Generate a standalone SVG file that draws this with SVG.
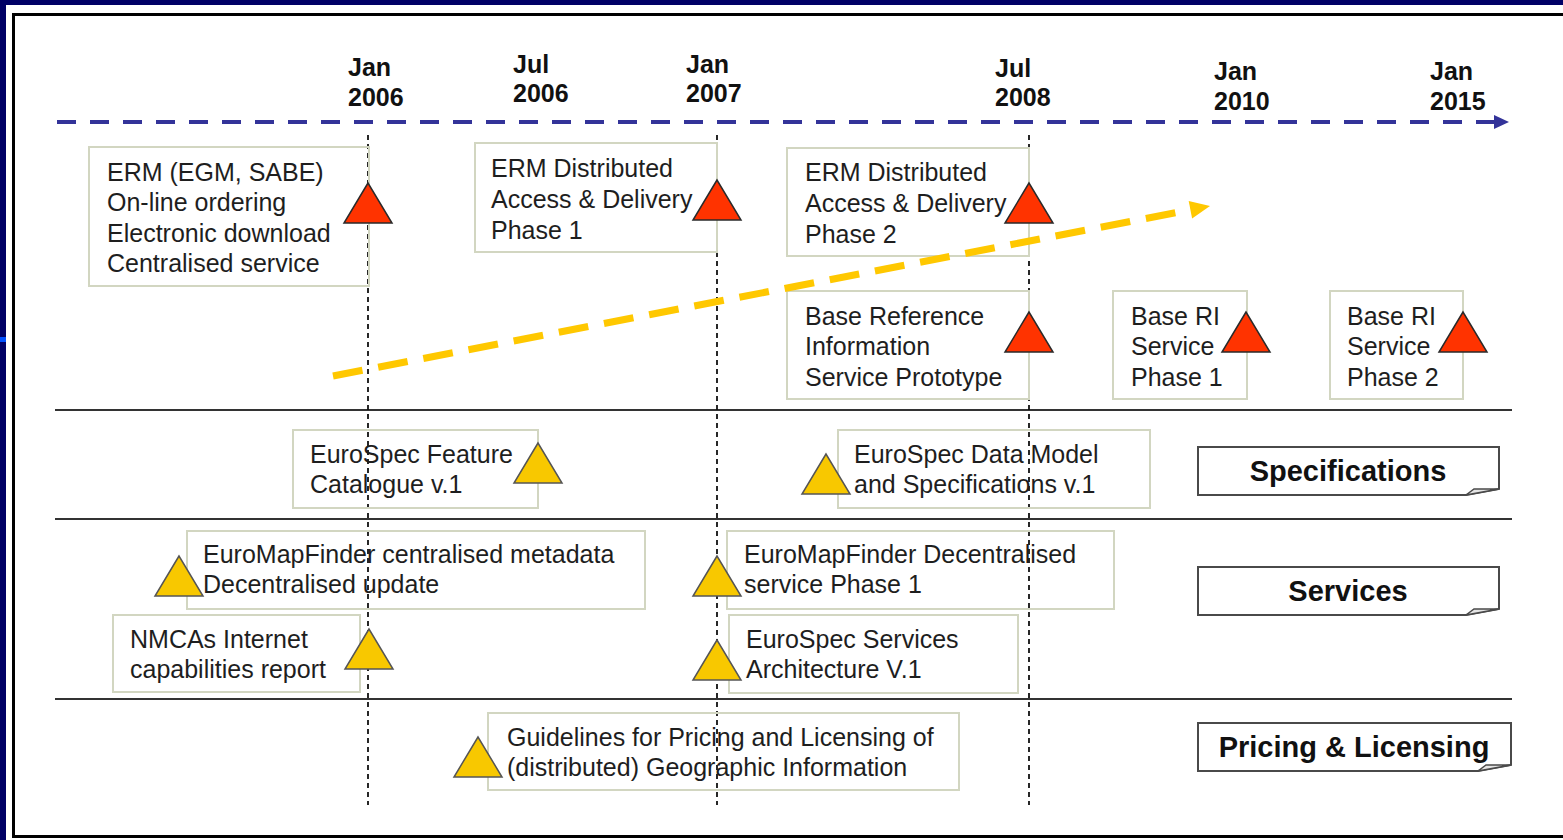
<svg xmlns="http://www.w3.org/2000/svg" width="1563" height="840" viewBox="0 0 1563 840">
<style>
.box{fill:none;stroke:#d2d6c1;stroke-width:2}
.t{font-family:"Liberation Sans",Arial,sans-serif;font-size:25px;fill:#1e1e1e}
.d{font-family:"Liberation Sans",Arial,sans-serif;font-size:25px;font-weight:bold;fill:#111}
.lbl{font-family:"Liberation Sans",Arial,sans-serif;font-size:29px;font-weight:bold;fill:#111;text-anchor:middle}
.lblbox{fill:#fff;stroke:#4a4a4a;stroke-width:2}
.fold{fill:#e4e4e4;stroke:#4a4a4a;stroke-width:1.5}
.grid{stroke:#111;stroke-width:1.8;stroke-dasharray:5 4;fill:none}
.sep{stroke:#333;stroke-width:2}
.red{fill:#ff3300;stroke:#2a2a2a;stroke-width:1.5}
.yel{fill:#f8c800;stroke:#555;stroke-width:1.5}
</style>
<defs>
<path id="tri" d="M0,0 L-24,40 L24,40 Z"/>
</defs>
<g id="background">
<rect x="0" y="0" width="1563" height="840" fill="#000066"/>
<rect x="6" y="5" width="1557" height="835" fill="#fff"/>
<rect x="0" y="337" width="6" height="5" fill="#0050ff"/>
<rect x="13.5" y="14.5" width="1560" height="822" fill="none" stroke="#000" stroke-width="3"/>
<line class="sep" x1="55" y1="410" x2="1512" y2="410"/>
<line class="sep" x1="55" y1="519" x2="1512" y2="519"/>
<line class="sep" x1="55" y1="699" x2="1512" y2="699"/>
</g>
<g id="dates">
<text class="d"><tspan x="348" y="76">Jan</tspan><tspan x="348" y="106">2006</tspan></text>
<text class="d"><tspan x="513" y="73">Jul</tspan><tspan x="513" y="102">2006</tspan></text>
<text class="d"><tspan x="686" y="73">Jan</tspan><tspan x="686" y="102">2007</tspan></text>
<text class="d"><tspan x="995" y="77">Jul</tspan><tspan x="995" y="106">2008</tspan></text>
<text class="d"><tspan x="1214" y="80">Jan</tspan><tspan x="1214" y="110">2010</tspan></text>
<text class="d"><tspan x="1430" y="80">Jan</tspan><tspan x="1430" y="110">2015</tspan></text>
</g>
<g id="gridlines">
<line class="grid" x1="368" y1="135" x2="368" y2="805"/>
<line class="grid" x1="717" y1="135" x2="717" y2="805"/>
<line class="grid" x1="1029" y1="135" x2="1029" y2="805"/>
</g>
<g id="erm-centralised">
<rect class="box" x="89" y="147" width="280" height="139"/>
<text class="t"><tspan x="107" y="181">ERM (EGM, SABE)</tspan><tspan x="107" y="211">On-line ordering</tspan><tspan x="107" y="242">Electronic download</tspan><tspan x="107" y="272">Centralised service</tspan></text>
<use href="#tri" class="red" x="368" y="183"/>
</g>
<g id="erm-phase1">
<rect class="box" x="475" y="143" width="242" height="109"/>
<text class="t"><tspan x="491" y="177">ERM Distributed</tspan><tspan x="491" y="208">Access &amp; Delivery</tspan><tspan x="491" y="239">Phase 1</tspan></text>
<use href="#tri" class="red" x="717" y="180"/>
</g>
<g id="erm-phase2">
<rect class="box" x="787" y="148" width="242" height="108"/>
<text class="t"><tspan x="805" y="181">ERM Distributed</tspan><tspan x="805" y="212">Access &amp; Delivery</tspan><tspan x="805" y="243">Phase 2</tspan></text>
<use href="#tri" class="red" x="1029" y="183"/>
</g>
<g id="base-ri-prototype">
<rect class="box" x="787" y="291" width="242" height="108"/>
<text class="t"><tspan x="805" y="325">Base Reference</tspan><tspan x="805" y="355">Information</tspan><tspan x="805" y="386">Service Prototype</tspan></text>
<use href="#tri" class="red" x="1029" y="312"/>
</g>
<g id="base-ri-phase1">
<rect class="box" x="1113" y="291" width="134" height="108"/>
<text class="t"><tspan x="1131" y="325">Base RI</tspan><tspan x="1131" y="355">Service</tspan><tspan x="1131" y="386">Phase 1</tspan></text>
<use href="#tri" class="red" x="1246" y="312"/>
</g>
<g id="base-ri-phase2">
<rect class="box" x="1330" y="291" width="133" height="108"/>
<text class="t"><tspan x="1347" y="325">Base RI</tspan><tspan x="1347" y="355">Service</tspan><tspan x="1347" y="386">Phase 2</tspan></text>
<use href="#tri" class="red" x="1463" y="312"/>
</g>
<g id="eurospec-feature">
<rect class="box" x="293" y="430" width="245" height="78"/>
<text class="t"><tspan x="310" y="463">EuroSpec Feature</tspan><tspan x="310" y="493">Catalogue v.1</tspan></text>
<use href="#tri" class="yel" x="538" y="443"/>
</g>
<g id="eurospec-datamodel">
<rect class="box" x="838" y="430" width="312" height="78"/>
<text class="t"><tspan x="854" y="463">EuroSpec Data Model</tspan><tspan x="854" y="493">and Specifications v.1</tspan></text>
<use href="#tri" class="yel" x="826" y="454"/>
</g>
<g id="euromapfinder-centralised">
<rect class="box" x="187" y="531" width="458" height="78"/>
<text class="t"><tspan x="203" y="563">EuroMapFinder centralised metadata</tspan><tspan x="203" y="593">Decentralised update</tspan></text>
<use href="#tri" class="yel" x="179" y="556"/>
</g>
<g id="euromapfinder-decentralised">
<rect class="box" x="727" y="531" width="387" height="78"/>
<text class="t"><tspan x="744" y="563">EuroMapFinder Decentralised</tspan><tspan x="744" y="593">service Phase 1</tspan></text>
<use href="#tri" class="yel" x="717" y="556"/>
</g>
<g id="nmcas-report">
<rect class="box" x="113" y="615" width="247" height="77"/>
<text class="t"><tspan x="130" y="648">NMCAs Internet</tspan><tspan x="130" y="678">capabilities report</tspan></text>
<use href="#tri" class="yel" x="369" y="629"/>
</g>
<g id="eurospec-services">
<rect class="box" x="729" y="615" width="289" height="78"/>
<text class="t"><tspan x="746" y="648">EuroSpec Services</tspan><tspan x="746" y="678">Architecture V.1</tspan></text>
<use href="#tri" class="yel" x="717" y="640"/>
</g>
<g id="pricing-guidelines">
<rect class="box" x="488" y="713" width="471" height="77"/>
<text class="t"><tspan x="507" y="746">Guidelines for Pricing and Licensing of</tspan><tspan x="507" y="776">(distributed) Geographic Information</tspan></text>
<use href="#tri" class="yel" x="478" y="737"/>
</g>
<g id="label-specifications">
<path class="lblbox" d="M1198,447 H1499 V489 L1466,495 H1198 Z"/>
<path class="fold" d="M1466,495 L1474,489 L1499,489 Z"/>
<text class="lbl" x="1348" y="481">Specifications</text>
</g>
<g id="label-services">
<path class="lblbox" d="M1198,567 H1499 V609 L1466,615 H1198 Z"/>
<path class="fold" d="M1466,615 L1474,609 L1499,609 Z"/>
<text class="lbl" x="1348" y="601">Services</text>
</g>
<g id="label-pricing">
<path class="lblbox" d="M1198,723 H1511 V765 L1478,771 H1198 Z"/>
<path class="fold" d="M1478,771 L1486,765 L1511,765 Z"/>
<text class="lbl" x="1354" y="757">Pricing &amp; Licensing</text>
</g>
<g id="connectors">
<line x1="57" y1="122" x2="1495" y2="122" stroke="#333399" stroke-width="4" stroke-dasharray="19 14"/>
<polygon points="1494,115 1509,122 1494,129" fill="#333399"/>
<line x1="333" y1="376" x2="1192" y2="209.5" stroke="#ffc800" stroke-width="7" stroke-dasharray="30 16"/>
<polygon points="1210,206 1192.1,218.6 1188.7,201" fill="#ffc800"/>
</g>
</svg>
